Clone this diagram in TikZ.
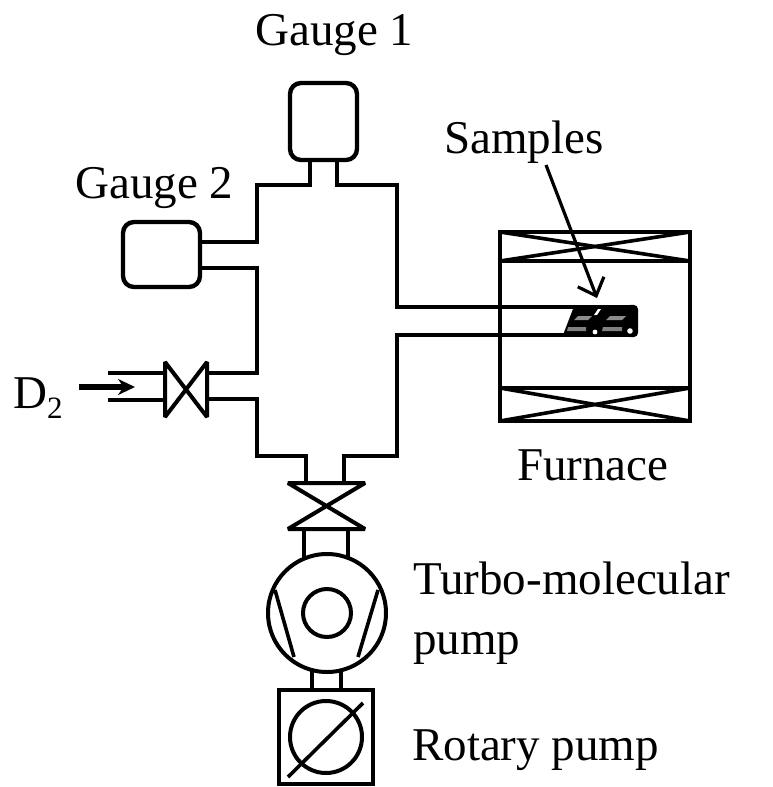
\documentclass[tikz,border=0pt]{standalone}
\usepackage{fontspec}
\setmainfont{Liberation Serif}
\usetikzlibrary{arrows.meta, positioning}

\begin{document}
\begin{tikzpicture}[
    x=1pt, y=-1pt,
    pipe/.style={line width=4.4pt, line join=miter},
    thinpipe/.style={line width=3.6pt},
    gaugebox/.style={
        rectangle, draw, line width=4.4pt, rounded corners=11pt,
        inner sep=0pt, fill=white
    },
    pumpcircle/.style={circle, draw, line width=4pt, inner sep=0pt},
    txt/.style={font=\fontsize{47}{50}\selectfont, inner sep=0pt, anchor=base west},
    valve/.style={line width=4pt, line join=miter, miter limit=3},
    openarrow/.style={-{Straight Barb[length=15pt, width=28pt, line width=3.2pt]}, line width=3.2pt},
    fillarrow/.style={-{Stealth[length=17pt, width=16pt]}, line width=6pt}
]
\useasboundingbox (0,0) rectangle (773,787);

%% --- GAUGES ---
\node[gaugebox, minimum width=67pt, minimum height=77pt] (gaugeone) at (323.5,121.5) {};
\node[gaugebox, minimum width=77pt, minimum height=65pt] (gaugetwo) at (161.5,254.5) {};

%% --- CHAMBER ---
\coordinate (topneck) at (310,185);
\draw[pipe] (gaugeone.south -| topneck) -- (topneck) -- (257,185) -- (257,242)
    -- (gaugetwo.east |- 0,242);
\draw[pipe] (gaugetwo.east |- 0,268) -- (257,268) -- (257,373) -- (207,373);
\draw[pipe] (207,399) -- (257,399) -- (257,456) -- (306,456) -- (306,484);
\draw[pipe] (337,160) -- (337,185) -- (397,185) -- (397,307) -- (632,307);
\draw[pipe] (344,484) -- (344,456) -- (397,456) -- (397,335) -- (632,335);

%% --- FURNACE ---
\draw[pipe] (500,232) rectangle (690,421);
\draw[pipe] (500,261) -- (690,261);
\draw[pipe] (500,388) -- (690,388);
\draw[thinpipe] (500,232) -- (690,261);
\draw[thinpipe] (500,261) -- (690,232);
\draw[thinpipe] (500,388) -- (690,421);
\draw[thinpipe] (500,421) -- (690,388);

%% --- SAMPLES ---
\draw[line width=4.4pt, rounded corners=3pt] (630,307) -- (636,307) -- (636,335) -- (630,335);
\fill[black] (563,335) -- (573,309) -- (636,309) -- (636,335) -- cycle;
\fill[black!45] (574,320) -- (578,316) -- (592,316) -- (588,320) -- cycle;
\fill[black!45] (606,320) -- (610,316) -- (626,316) -- (622,320) -- cycle;
\fill[black!50] (568,327) -- (586,327) -- (586,331) -- (567,331) -- cycle;
\fill[black!50] (603,327) -- (622,327) -- (622,331) -- (602,331) -- cycle;
\fill[white] (598,309) -- (601,309) -- (597,315) -- (594,315) -- cycle;
\fill[white] (595,332) circle (2.4pt);
\fill[white] (630,331) circle (2.8pt);

%% --- INLET ---
\draw[pipe] (108,373) -- (165,373);
\draw[pipe] (108,400) -- (165,400);
\draw[valve] (165,362) -- (207,417) -- (207,362) -- (165,417) -- cycle;
\draw[fillarrow] (79,387) -- (135,387);

%% --- PUMPS ---
\draw[valve] (288,483) -- (365,483) -- (288,529) -- (365,529) -- cycle;
\node[pumpcircle, minimum size=118pt] (turbo) at (327,613) {};
\node[pumpcircle, minimum size=48pt] (rotor) at (327,613) {};
\draw[pipe] (304,529) -- (304,557);
\draw[pipe] (348,529) -- (348,557);
\draw[thinpipe] (275,590) -- (294,657);
\draw[thinpipe] (378,590) -- (358,657);
\node[draw, line width=4.4pt, minimum size=94pt, inner sep=0pt] (rotary) at (326,737) {};
\node[pumpcircle, minimum size=72pt] (rotarydisc) at (326,737) {};
\draw[thinpipe] (288,777) -- (363,703);
\draw[pipe] (312,671) -- (312,690);
\draw[pipe] (341,671) -- (341,690);

%% --- SAMPLE ARROW ---
\draw[openarrow] (546,165) -- (597,298);

%% --- LABELS ---
\node[txt] (lgaugeone) at (255,45) {Gauge 1};
\node[txt] (lgaugetwo) at (75,198) {Gauge 2};
\node[txt] (lsamples) at (444,153) {Samples};
\node[txt] (lfurnace) at (517,480) {Furnace};
\node[txt] (lturbo) at (413,594) {Turbo-molecular};
\node[txt] (lpump) at (413,654) {pump};
\node[txt] (lrotary) at (412,760) {Rotary pump};
\node[txt] (ldtwo) at (13,408) {D\raisebox{-10pt}{\fontsize{31}{32}\selectfont 2}};

\end{tikzpicture}
\end{document}
